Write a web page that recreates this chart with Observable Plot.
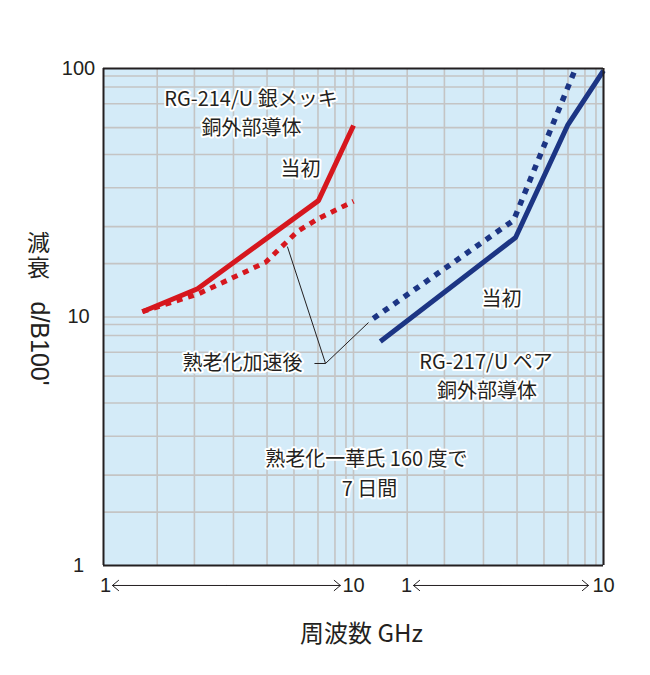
<!DOCTYPE html>
<html>
<head>
<meta charset="utf-8">
<script src="https://cdn.jsdelivr.net/npm/d3@7"></script>
<script src="https://cdn.jsdelivr.net/npm/@observablehq/plot@0.6"></script>
<style>
  html, body { margin: 0; padding: 0; background: #ffffff; }
  svg { display: block; }
  text.vertical-title { writing-mode: vertical-rl; text-orientation: upright; }
</style>
</head>
<body>
<div id="chart"></div>
<script>
// ---- panels (two side-by-side log decades, 1–10 GHz each)
const panels = ["RG-214/U", "RG-217/U"];

// ---- RG-214/U (silver-plated copper outer conductor) — left panel
const rg214InitialFreq = [1.43, 2.38, 7.24, 10];
const rg214InitialDb   = [10.5, 13.0, 29.4, 59.0];
const rg214AgedFreq    = [1.43, 2.40, 4.45, 5.97, 7.24, 10];
const rg214AgedDb      = [10.5, 12.4, 16.6, 22.1, 24.9, 29.2];

// ---- RG-217/U (bare copper outer conductor) — right panel
const rg217InitialFreq = [1.28, 4.45, 7.18, 10];
const rg217InitialDb   = [7.97, 20.9, 59.0, 98.0];
const rg217AgedFreq    = [1.20, 4.37, 7.73];
const rg217AgedDb      = [9.86, 24.5, 100];

// ---- grid values (as drawn on the original chart paper)
const gridFreq = [1.64, 2.31, 3.31, 4.51, 5.78, 7.21, 8.43, 9.33, 10];
const gridDb   = [1.64, 2.31, 3.31, 4.51, 5.78, 7.21, 8.43, 9.33, 10,
                  16.4, 23.1, 33.1, 45.1, 57.8, 72.1, 84.3, 93.3];

// ---- tick labels
const yTickValues = [1, 10, 100];
const yTickLabels = ["1", "10", "100"];
const xTickLabels = ["1", "10"];
const xTickFreqLeft  = [1.02, 10];
const xTickFreqRight = [1.63, 10];
const xArrowLeft  = [1.086, 8.86];
const xArrowRight = [1.738, 8.71];
const xLabelDb = 0.831;

// ---- annotations
const annoText  = ["RG-214/U 銀メッキ", "銅外部導体", "当初", "熟老化加速後",
                   "当初", "RG-217/U ペア", "銅外部導体",
                   "熟老化一華氏 160 度で", "7 日間"];
const annoPanel = [0, 0, 0, 0, 1, 1, 1, 1, 1];
const annoFreq  = [3.89, 3.91, 6.14, 3.60, 3.91, 3.39, 3.42, 1.127, 1.159];
const annoDb    = [75.1, 57.4, 39.2, 6.50, 11.8, 6.56, 5.01, 2.67, 2.02];

// leader lines for 熟老化加速後 (drawn in right panel's coordinates)
const leaderOrigin = {freq: 0.773, db: 6.50};
const leaderTargetFreq = [0.544, 1.148, 0.698];
const leaderTargetDb   = [19.2, 9.50, 6.50];

const yTitleCjk = "減衰";
const yTitleLatin = "d/B100'";
const xTitle = "周波数 GHz";

// ---- styles
const RED = "#d6171e";
const BLUE = "#1c3584";
const INK = "#231f20";
const BG = "#d4ebf8";
const GRID = "#c4c4c4";
const CJK = "'Noto Sans CJK JP', sans-serif";
const LATIN = "'Liberation Sans', Arial, sans-serif";

const rows = (freqs, dbs, panel) => freqs.map((f, i) => ({freq: f, db: dbs[i], panel}));
const rg214Initial = rows(rg214InitialFreq, rg214InitialDb, panels[0]);
const rg214Aged    = rows(rg214AgedFreq, rg214AgedDb, panels[0]);
const rg217Initial = rows(rg217InitialFreq, rg217InitialDb, panels[1]);
const rg217Aged    = rows(rg217AgedFreq, rg217AgedDb, panels[1]);

const annotations = annoText.map((t, i) => ({label: t, panel: panels[annoPanel[i]], freq: annoFreq[i], db: annoDb[i]}));
const leaders = leaderTargetFreq.map((f, i) => ({panel: panels[1], x1: leaderOrigin.freq, y1: leaderOrigin.db, x2: f, y2: leaderTargetDb[i]}));

const xTicks = [
  ...xTickLabels.map((l, i) => ({panel: panels[0], freq: xTickFreqLeft[i], label: l, db: xLabelDb})),
  ...xTickLabels.map((l, i) => ({panel: panels[1], freq: xTickFreqRight[i], label: l, db: xLabelDb}))
];
const arrowSpans = [[panels[0], xArrowLeft], [panels[1], xArrowRight]];
const xArrows = arrowSpans.flatMap(([p, [a, b]]) => {
  const mid = Math.sqrt(a * b);
  return [{panel: p, x1: mid, x2: a, db: xLabelDb}, {panel: p, x1: mid, x2: b, db: xLabelDb}];
});
const borders = [{panel: panels[0], freq: 1}, {panel: panels[1], freq: 10}];

const lineStyle = {x: "freq", y: "db", fx: "panel", strokeWidth: 5, strokeLinecap: "butt", strokeLinejoin: "miter"};

const chart = Plot.plot({
  width: 650,
  height: 675,
  marginLeft: 103,
  marginRight: 47,
  marginTop: 68,
  marginBottom: 110,
  style: {background: "#ffffff", fontFamily: LATIN, color: INK},
  fx: {domain: panels, padding: 0, axis: null},
  x: {type: "log", domain: [1, 10], axis: null},
  y: {type: "log", domain: [1, 100], axis: null},
  marks: [
    Plot.frame({fill: BG, stroke: "none"}),
    Plot.ruleX(gridFreq, {stroke: GRID, strokeWidth: 1.6}),
    Plot.ruleY(gridDb, {stroke: GRID, strokeWidth: 1.6}),
    Plot.line(rg214Initial, {...lineStyle, stroke: RED}),
    Plot.line(rg214Aged, {...lineStyle, stroke: RED, strokeDasharray: "6,6"}),
    Plot.line(rg217Initial, {...lineStyle, stroke: BLUE}),
    Plot.line(rg217Aged, {...lineStyle, stroke: BLUE, strokeWidth: 5.5, strokeDasharray: "6,6.5"}),
    Plot.link(leaders, {x1: "x1", y1: "y1", x2: "x2", y2: "y2", fx: "panel", stroke: INK, strokeWidth: 1}),
    Plot.ruleY([1, 100], {stroke: INK, strokeWidth: 2}),
    Plot.ruleX(borders, {x: "freq", fx: "panel", stroke: INK, strokeWidth: 2}),
    Plot.text(annotations, {
      x: "freq", y: "db", fx: "panel", text: "label",
      fontSize: 20, fontFamily: CJK, fill: INK,
      stroke: "white", strokeWidth: 4, strokeLinejoin: "round", paintOrder: "stroke"
    }),
    // y tick labels
    Plot.text(yTickValues, {
      y: d => d, text: (d, i) => yTickLabels[i], fx: () => panels[0],
      frameAnchor: "left", textAnchor: "middle", lineAnchor: "middle", dx: -25,
      fontSize: 20, fontFamily: LATIN, fill: INK
    }),
    // x tick labels and arrows
    Plot.text(xTicks, {
      x: "freq", y: "db", fx: "panel", text: "label",
      textAnchor: "middle", fontSize: 20, fontFamily: LATIN, fill: INK
    }),
    Plot.arrow(xArrows, {
      x1: "x1", x2: "x2", y1: "db", y2: "db", fx: "panel",
      stroke: INK, strokeWidth: 1, headAngle: 80, headLength: 12
    }),
    // axis titles
    Plot.text([yTitleCjk], {
      fx: () => panels[0], frameAnchor: "left", textAnchor: "middle", lineAnchor: "middle",
      dx: -65, dy: -61, fontSize: 23, fontFamily: CJK, fill: INK
    }),
    Plot.text([yTitleLatin], {
      fx: () => panels[0], frameAnchor: "left", textAnchor: "middle", lineAnchor: "middle",
      dx: -65, dy: 26.5, rotate: 90, fontSize: 25, fontFamily: LATIN, fill: INK
    }),
    Plot.text([xTitle], {
      fx: () => panels[0], frameAnchor: "bottom-right", textAnchor: "middle", lineAnchor: "middle",
      dx: 8, dy: 69, fontSize: 24, fontFamily: CJK, fill: INK
    })
  ]
});
// set the CJK part of the y title in vertical (tategaki) writing mode
d3.select(chart).selectAll("text")
  .filter(function() { return this.textContent === yTitleCjk; })
  .classed("vertical-title", true)
  .attr("writing-mode", "tb")
  .attr("y", null)
  .attr("dy", null)
  .attr("letter-spacing", "2");
document.getElementById("chart").appendChild(chart);
</script>
</body>
</html>
